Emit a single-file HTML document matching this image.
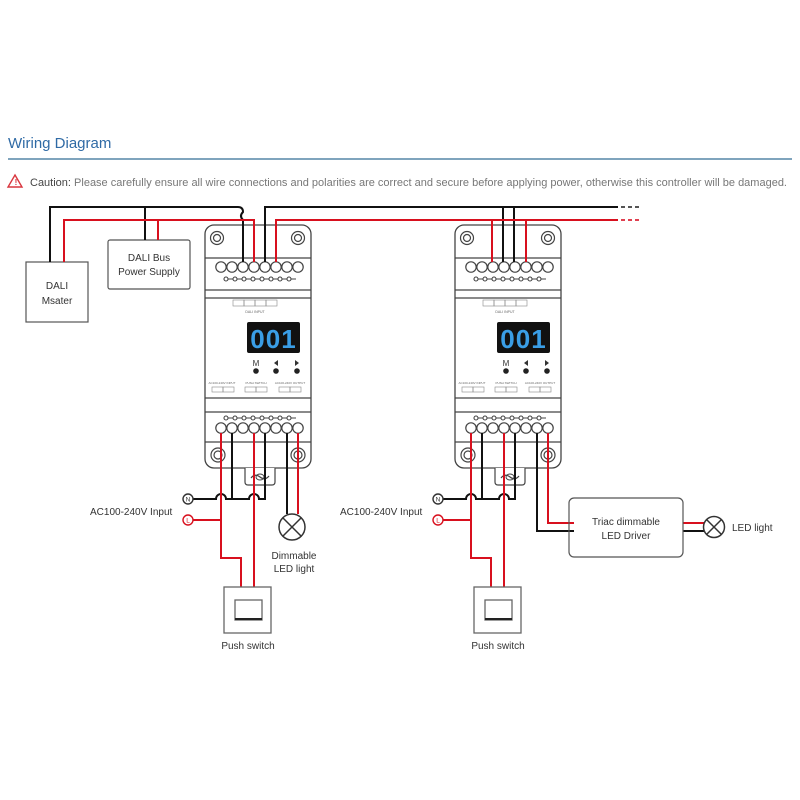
<!DOCTYPE html>
<html><head><meta charset="utf-8"><style>
html,body{margin:0;padding:0;background:#fff;width:800px;height:800px;overflow:hidden}
svg{display:block}
text{font-family:"Liberation Sans",sans-serif}
</style></head><body>
<svg width="800" height="800" viewBox="0 0 800 800" xmlns="http://www.w3.org/2000/svg">
<defs>
<g id="dev">
  <rect x="205" y="225" width="106" height="243" rx="9" fill="#fff" stroke="#444" stroke-width="1.3"/>
  <path d="M245 468 v14 q0 3 3 3 h24 q3 0 3-3 v-14" fill="#fff" stroke="#444" stroke-width="1.2"/>
  <path d="M251 478 q4-5 9-1 q5 4 9-1" fill="none" stroke="#444" stroke-width="1.2"/>
  <ellipse cx="260" cy="477" rx="4" ry="3" fill="none" stroke="#444"/>
  <line x1="205" y1="258" x2="311" y2="258" stroke="#444" stroke-width="1.2"/>
  <line x1="205" y1="290" x2="311" y2="290" stroke="#444" stroke-width="1.2"/>
  <line x1="205" y1="298" x2="311" y2="298" stroke="#444" stroke-width="1.2"/>
  <line x1="205" y1="398" x2="311" y2="398" stroke="#444" stroke-width="1.2"/>
  <line x1="205" y1="412" x2="311" y2="412" stroke="#444" stroke-width="1.2"/>
  <line x1="205" y1="442" x2="311" y2="442" stroke="#444" stroke-width="1.2"/>
  <g fill="#fff" stroke="#444" stroke-width="1.2">
    <circle cx="217" cy="238" r="6.5"/><circle cx="217" cy="238" r="3.5"/>
    <circle cx="298" cy="238" r="6.5"/><circle cx="298" cy="238" r="3.5"/>
    <circle cx="218" cy="455" r="7"/><circle cx="218" cy="455" r="4"/>
    <circle cx="298" cy="455" r="7"/><circle cx="298" cy="455" r="4"/>
  </g>
  <line x1="224" y1="279" x2="296" y2="279" stroke="#444"/>
  <line x1="224" y1="418" x2="296" y2="418" stroke="#444"/>
  <g fill="#fff" stroke="#444" stroke-width="1.1">
    <circle cx="226" cy="279" r="2"/><circle cx="235" cy="279" r="2"/><circle cx="244" cy="279" r="2"/><circle cx="253" cy="279" r="2"/><circle cx="262" cy="279" r="2"/><circle cx="271" cy="279" r="2"/><circle cx="280" cy="279" r="2"/><circle cx="289" cy="279" r="2"/>
    <circle cx="226" cy="418" r="2"/><circle cx="235" cy="418" r="2"/><circle cx="244" cy="418" r="2"/><circle cx="253" cy="418" r="2"/><circle cx="262" cy="418" r="2"/><circle cx="271" cy="418" r="2"/><circle cx="280" cy="418" r="2"/><circle cx="289" cy="418" r="2"/>
  </g>
  <g fill="#fff" stroke="#444" stroke-width="1.2">
    <circle cx="221" cy="267" r="5.2"/><circle cx="232" cy="267" r="5.2"/><circle cx="243" cy="267" r="5.2"/><circle cx="254" cy="267" r="5.2"/><circle cx="265" cy="267" r="5.2"/><circle cx="276" cy="267" r="5.2"/><circle cx="287" cy="267" r="5.2"/><circle cx="298" cy="267" r="5.2"/>
    <circle cx="221" cy="428" r="5.2"/><circle cx="232" cy="428" r="5.2"/><circle cx="243" cy="428" r="5.2"/><circle cx="254" cy="428" r="5.2"/><circle cx="265" cy="428" r="5.2"/><circle cx="276" cy="428" r="5.2"/><circle cx="287" cy="428" r="5.2"/><circle cx="298" cy="428" r="5.2"/>
  </g>
  <g fill="none" stroke="#888" stroke-width="0.6">
    <rect x="233" y="300" width="11" height="6"/><rect x="244" y="300" width="11" height="6"/><rect x="255" y="300" width="11" height="6"/><rect x="266" y="300" width="11" height="6"/>
    <rect x="212" y="387" width="11" height="5"/><rect x="223" y="387" width="11" height="5"/>
    <rect x="245" y="387" width="11" height="5"/><rect x="256" y="387" width="11" height="5"/>
    <rect x="279" y="387" width="11" height="5"/><rect x="290" y="387" width="11" height="5"/>
  </g>
  <text x="255" y="313" font-size="3.5" fill="#666" text-anchor="middle">DALI INPUT</text>
  <text x="222" y="384" font-size="3" fill="#666" text-anchor="middle">AC100-240V INPUT</text>
  <text x="290" y="384" font-size="3" fill="#666" text-anchor="middle">AC100-240V OUTPUT</text>
  <text x="256" y="384" font-size="3" fill="#666" text-anchor="middle">PUSH SWITCH</text>
  <rect x="247" y="322" width="53" height="31" rx="2" fill="#111"/>
  <text x="273.5" y="348" font-size="26" fill="#3a9ee6" text-anchor="middle" font-family="Liberation Mono, monospace" font-weight="bold" letter-spacing="1">001</text>
  <text x="256" y="366" font-size="8" fill="#333" text-anchor="middle">M</text>
  <path d="M278 360 l-4 3 l4 3z M295 360 l4 3 l-4 3z" fill="#333"/>
  <circle cx="256" cy="371" r="2.8" fill="#222"/><circle cx="276" cy="371" r="2.8" fill="#222"/><circle cx="297" cy="371" r="2.8" fill="#222"/>
</g>
</defs>

<text x="8" y="148" font-size="15" fill="#2f6aa5">Wiring Diagram</text>
<line x1="8" y1="159" x2="792" y2="159" stroke="#7fa4bd" stroke-width="2"/>
<path d="M15 175 l7 12 h-14 z" fill="none" stroke="#d9363e" stroke-width="1.4"/>
<text x="14.6" y="185" font-size="8" fill="#d9363e" font-weight="bold">!</text>
<text x="30" y="186" font-size="11" textLength="757" lengthAdjust="spacingAndGlyphs"><tspan fill="#444">Caution:</tspan><tspan fill="#777"> Please carefully ensure all wire connections and polarities are correct and secure before applying power, otherwise this controller will be damaged.</tspan></text>

<use href="#dev"/>
<use href="#dev" transform="translate(250,0)"/>

<rect x="26" y="262" width="62" height="60" fill="#fff" stroke="#555" stroke-width="1.2"/>
<text x="57" y="289" font-size="10" fill="#333" text-anchor="middle">DALI</text>
<text x="57" y="304" font-size="10" fill="#333" text-anchor="middle">Msater</text>
<rect x="108" y="240" width="82" height="49" rx="2" fill="#fff" stroke="#555" stroke-width="1.2"/>
<text x="149" y="261" font-size="10" fill="#333" text-anchor="middle">DALI Bus</text>
<text x="149" y="275" font-size="10" fill="#333" text-anchor="middle">Power Supply</text>

<g fill="none" stroke-width="2">
<path d="M50 262 V207 H238 q5 0 5 5 q-4 4 0 8 V262" stroke="#111"/>
<path d="M145 240 V207" stroke="#111"/>
<path d="M64 262 V220 H254 V262" stroke="#d8101e"/>
<path d="M158 240 V220" stroke="#d8101e"/>
<path d="M265 262 V207 H618" stroke="#111"/>
<path d="M503 262 V207" stroke="#111"/>
<path d="M514 262 V207" stroke="#111"/>
<path d="M276 262 V220 H618" stroke="#d8101e"/>
<path d="M492 262 V220" stroke="#d8101e"/>
<path d="M526 262 V220" stroke="#d8101e"/>
<path d="M621 207 H640" stroke="#555" stroke-dasharray="4 3"/>
<path d="M621 220 H640" stroke="#e04050" stroke-dasharray="4 3"/>

<path d="M193 499 H216 a5 5 0 0 1 10 0 H249 a5 5 0 0 1 10 0 H265 V433" stroke="#111"/>
<path d="M232 433 V499" stroke="#111"/>
<path d="M221 433 V558 H241 V587" stroke="#d8101e"/>
<path d="M193 520 H221" stroke="#d8101e"/>
<path d="M254 433 V587" stroke="#d8101e"/>
<path d="M287 433 V514" stroke="#111"/>
<path d="M298 433 V514" stroke="#d8101e"/>

<path d="M443 499 H466 a5 5 0 0 1 10 0 H499 a5 5 0 0 1 10 0 H515 V433" stroke="#111"/>
<path d="M482 433 V499" stroke="#111"/>
<path d="M471 433 V558 H491 V587" stroke="#d8101e"/>
<path d="M443 520 H471" stroke="#d8101e"/>
<path d="M504 433 V587" stroke="#d8101e"/>
<path d="M537 433 V531 H574" stroke="#111"/>
<path d="M548 433 V523 H574" stroke="#d8101e"/>
<path d="M683 523 H704" stroke="#d8101e"/>
<path d="M683 531 H704" stroke="#111"/>
</g>

<g stroke-width="1.4" fill="#fff">
<circle cx="188" cy="499" r="5" stroke="#333"/><circle cx="188" cy="520" r="5" stroke="#d8101e"/>
<circle cx="438" cy="499" r="5" stroke="#333"/><circle cx="438" cy="520" r="5" stroke="#d8101e"/>
</g>
<g font-size="6.5" text-anchor="middle">
<text x="188" y="501.5" fill="#333">N</text><text x="188" y="522.5" fill="#d8101e">L</text>
<text x="438" y="501.5" fill="#333">N</text><text x="438" y="522.5" fill="#d8101e">L</text>
</g>
<text x="90" y="515" font-size="10" fill="#333">AC100-240V Input</text>
<text x="340" y="515" font-size="10" fill="#333">AC100-240V Input</text>

<g fill="#fff" stroke="#333" stroke-width="1.5">
<circle cx="292" cy="527" r="13"/>
<path d="M283 518 l18 18 M301 518 l-18 18"/>
<circle cx="714" cy="527" r="10.5"/>
<path d="M707 520 l14 14 M721 520 l-14 14"/>
</g>
<text x="294" y="559" font-size="10" fill="#333" text-anchor="middle">Dimmable</text>
<text x="294" y="572" font-size="10" fill="#333" text-anchor="middle">LED light</text>
<text x="732" y="531" font-size="10" fill="#333">LED light</text>

<rect x="569" y="498" width="114" height="59" rx="5" fill="none" stroke="#555" stroke-width="1.2"/>
<text x="626" y="525" font-size="10" fill="#333" text-anchor="middle">Triac dimmable</text>
<text x="626" y="539" font-size="10" fill="#333" text-anchor="middle">LED Driver</text>

<g fill="#fff" stroke="#666" stroke-width="1.3">
<rect x="224" y="587" width="47" height="46"/>
<rect x="235" y="600" width="27" height="20"/>
<rect x="474" y="587" width="47" height="46"/>
<rect x="485" y="600" width="27" height="20"/>
</g>
<line x1="235" y1="619" x2="262" y2="619" stroke="#222" stroke-width="2"/>
<line x1="485" y1="619" x2="512" y2="619" stroke="#222" stroke-width="2"/>
<text x="248" y="649" font-size="10" fill="#333" text-anchor="middle">Push switch</text>
<text x="498" y="649" font-size="10" fill="#333" text-anchor="middle">Push switch</text>
</svg>
</body></html>
